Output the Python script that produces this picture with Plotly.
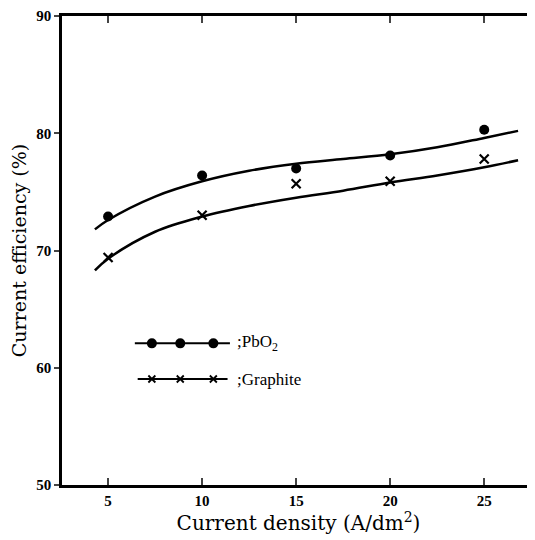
import plotly.graph_objects as go

# measured points
density = [5, 10, 15, 20, 25]
pbo2 = [72.9, 76.4, 77.0, 78.1, 80.3]
graphite = [69.4, 73.0, 75.7, 75.9, 77.8]

# hand-drawn fitted curves
fit_x = [4.3, 5, 7.5, 10, 12.5, 15, 17.5, 20, 22.5, 25, 26.8]
pbo2_fit = [71.8, 72.6, 74.6, 75.9, 76.8, 77.4, 77.8, 78.2, 78.8, 79.6, 80.2]
graphite_fit = [68.3, 69.3, 71.6, 72.9, 73.8, 74.5, 75.1, 75.8, 76.4, 77.1, 77.7]

x_ticks = [5, 10, 15, 20, 25]
y_ticks = [50, 60, 70, 80, 90]

FONT = "Liberation Serif"
TFONT = "DejaVu Serif"
fig = go.Figure()

fig.add_trace(go.Scatter(x=fit_x, y=pbo2_fit, mode="lines", line=dict(color="black", width=2.5, shape="spline"), showlegend=False))
fig.add_trace(go.Scatter(x=fit_x, y=graphite_fit, mode="lines", line=dict(color="black", width=2.5, shape="spline"), showlegend=False))
fig.add_trace(go.Scatter(x=density, y=pbo2, mode="markers", marker=dict(symbol="circle", size=10, color="black"), showlegend=False))
fig.add_trace(go.Scatter(x=density, y=graphite, mode="markers", marker=dict(symbol="x-thin", size=9, line=dict(color="black", width=2.2)), showlegend=False))

# legend samples on an auxiliary unit axis
leg_marks = [0.19, 0.25, 0.32]
fig.add_trace(go.Scatter(x=[0.154, 0.355], y=[0.302, 0.302], mode="lines", line=dict(color="black", width=2), xaxis="x2", yaxis="y2", showlegend=False))
fig.add_trace(go.Scatter(x=leg_marks, y=[0.302] * 3, mode="markers", marker=dict(symbol="circle", size=10, color="black"), xaxis="x2", yaxis="y2", showlegend=False))
fig.add_trace(go.Scatter(x=[0.16, 0.35], y=[0.226, 0.226], mode="lines", line=dict(color="black", width=2), xaxis="x2", yaxis="y2", showlegend=False))
fig.add_trace(go.Scatter(x=leg_marks, y=[0.226] * 3, mode="markers", marker=dict(symbol="x-thin", size=7, line=dict(color="black", width=1.8)), xaxis="x2", yaxis="y2", showlegend=False))

fig.add_annotation(x=0.366, y=0.302, xref="x2", yref="y2", text=";PbO<sub>2</sub>", showarrow=False, xanchor="left", font=dict(family=FONT, size=17, color="black"))
fig.add_annotation(x=0.366, y=0.226, xref="x2", yref="y2", text=";Graphite", showarrow=False, xanchor="left", font=dict(family=FONT, size=17, color="black"))

fig.update_layout(
    width=527, height=532,
    margin=dict(l=54, r=0, t=4, b=55),
    plot_bgcolor="white", paper_bgcolor="white",
    font=dict(family=FONT, color="black"),
    xaxis=dict(range=[2.55, 27.7], tickvals=x_ticks, ticks="inside", ticklen=7, tickwidth=2,
               showline=True, linewidth=2.5, linecolor="black", mirror="ticks", showgrid=False, zeroline=False,
               tickfont=dict(family=FONT, size=15, color="black", weight="bold"),
               title=dict(text="Current density (A/dm<sup>2</sup>)", font=dict(family=TFONT, size=20), standoff=8)),
    yaxis=dict(range=[50, 90], tickvals=y_ticks, ticks="outside", ticklen=5, tickwidth=2,
               showline=True, linewidth=2.5, linecolor="black", showgrid=False, zeroline=False,
               ticklabeloverflow="allow",
               tickfont=dict(family=FONT, size=15, color="black", weight="bold"),
               title=dict(text="Current efficiency (%)", font=dict(family=TFONT, size=19), standoff=8)),
    xaxis2=dict(range=[0, 1], overlaying="x", visible=False, fixedrange=True),
    yaxis2=dict(range=[0, 1], overlaying="y", visible=False, fixedrange=True),
)

fig.write_html("out.html")
